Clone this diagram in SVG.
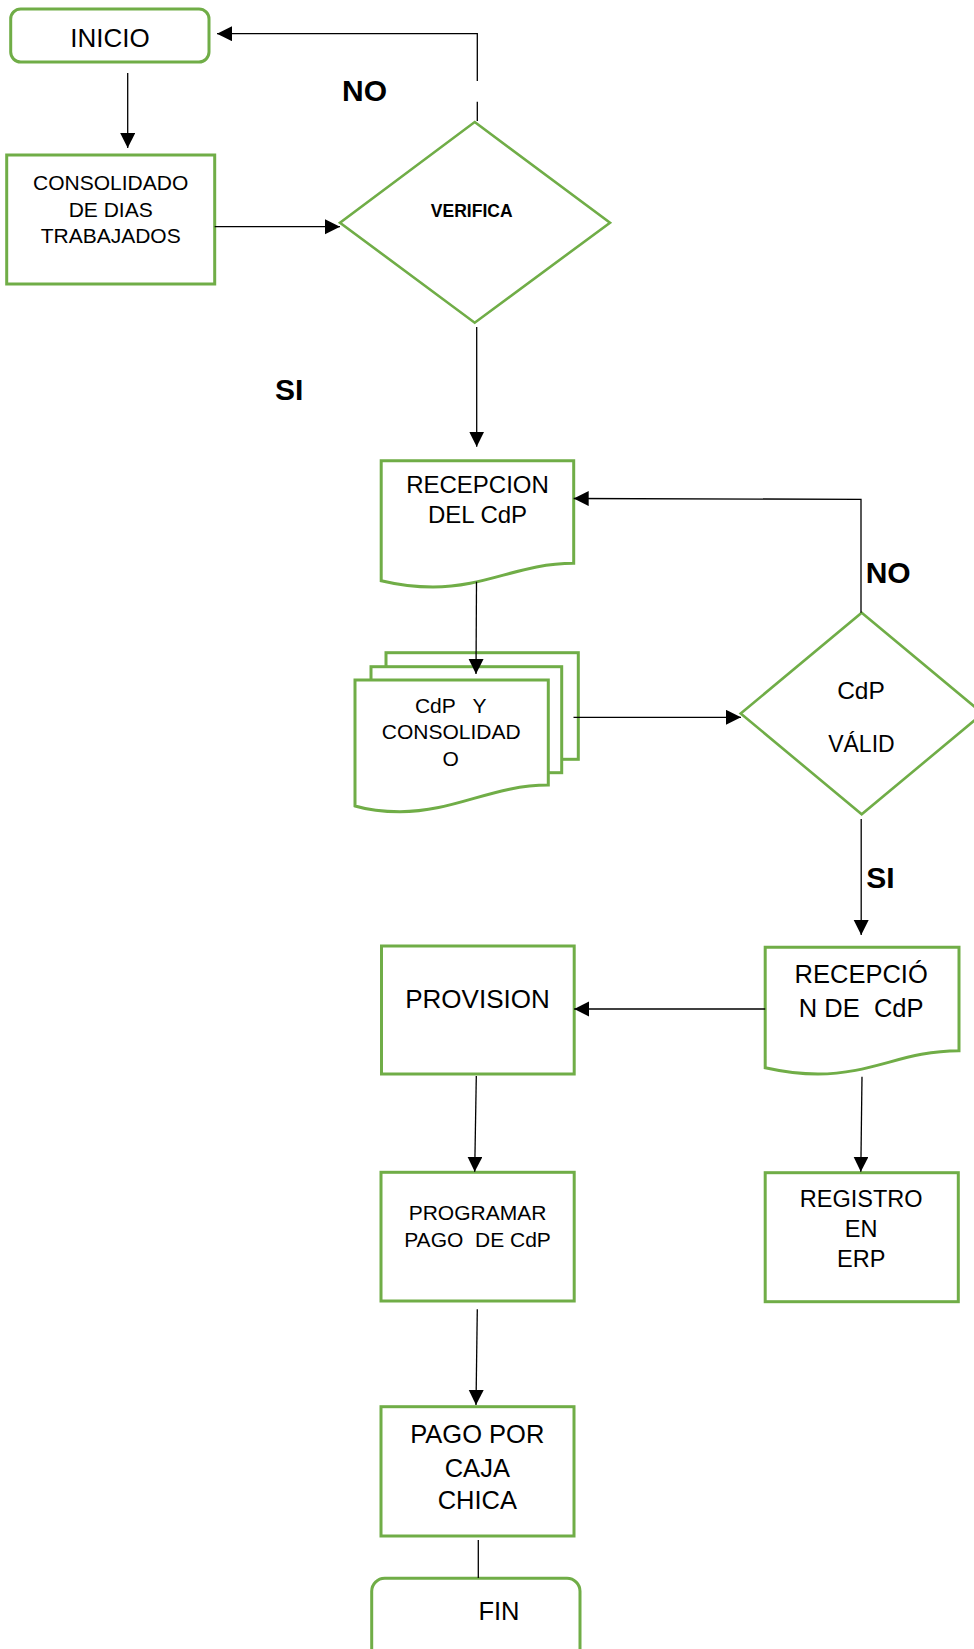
<svg xmlns="http://www.w3.org/2000/svg" width="974" height="1649" viewBox="0 0 974 1649">
<style>
.shape{fill:#fff;stroke:#70AD47;stroke-width:3}
.dia{fill:#fff;stroke:#70AD47;stroke-width:2.6}
.t{font-family:"Liberation Sans",Arial,sans-serif;fill:#000;text-anchor:middle}
.b{font-family:"Liberation Sans",Arial,sans-serif;font-weight:bold;fill:#000}
.c{fill:none;stroke:#000;stroke-width:1.3}
</style>
<defs>
<marker id="ah" markerUnits="userSpaceOnUse" markerWidth="16" markerHeight="16" refX="15" refY="7.5" orient="auto">
<path d="M0,0 L15,7.5 L0,15 Z" fill="#000"/>
</marker>
</defs>
<rect width="974" height="1649" fill="#fff"/>

<g id="inicio">
<rect class="shape" x="10.7" y="9" width="198.3" height="53" rx="10"/>
<text class="t" x="110" y="46.7" font-size="26">INICIO</text>
</g>
<g id="consolidado">
<rect class="shape" x="6.7" y="155" width="208" height="129"/>
<text class="t" x="110.7" y="190" font-size="21">CONSOLIDADO</text>
<text class="t" x="110.7" y="217" font-size="21">DE DIAS</text>
<text class="t" x="110.7" y="243" font-size="21">TRABAJADOS</text>
</g>
<g id="verifica">
<polygon class="dia" points="474.7,122 610,222.7 474.7,322.7 340,222.7"/>
<text class="t b" x="471.7" y="217.3" font-size="17.5">VERIFICA</text>
</g>
<g id="recepcion-cdp">
<path class="shape" d="M381.2,460.7 H573.7 V563.3 C519.7,563.3 487,587 433,587 C410,587 395,584 381.2,580.7 Z"/>
<text class="t" x="477.5" y="493.3" font-size="24">RECEPCION</text>
<text class="t" x="477.5" y="523.3" font-size="24">DEL CdP</text>
</g>
<g id="cdp-consolidado">
<rect class="shape" x="386" y="652.7" width="192.3" height="106.6"/>
<rect class="shape" x="371" y="666.7" width="190.7" height="106"/>
<path class="shape" d="M355,680 H548.3 V785 C493,785 455,811.7 400,811.7 C378,811.7 365,809 355,806 Z"/>
<text class="t" x="450.7" y="712.7" font-size="21" xml:space="preserve">CdP   Y</text>
<text class="t" x="451.2" y="739.3" font-size="21">CONSOLIDAD</text>
<text class="t" x="450.7" y="765.7" font-size="21">O</text>
</g>
<g id="cdp-valido">
<polygon class="dia" points="861.7,612.7 982.7,713.5 861.7,814.3 740.7,713.5"/>
<text class="t" x="861" y="699" font-size="24.5">CdP</text>
<text class="t" x="861.4" y="751.7" font-size="23">VÁLID</text>
</g>
<g id="recepcion-de-cdp">
<path class="shape" d="M765.2,947.3 H959 V1050.7 C904,1050.7 873,1074 818,1074 C795,1074 780,1071 765.2,1067.7 Z"/>
<text class="t" x="861.2" y="982.7" font-size="25.5">RECEPCIÓ</text>
<text class="t" x="861.2" y="1016.7" font-size="25.5" xml:space="preserve">N DE  CdP</text>
</g>
<g id="provision">
<rect class="shape" x="381.5" y="946" width="192.7" height="128"/>
<text class="t" x="477.5" y="1007.7" font-size="26">PROVISION</text>
</g>
<g id="programar">
<rect class="shape" x="381" y="1172.3" width="193.2" height="128.7"/>
<text class="t" x="477.5" y="1220" font-size="21">PROGRAMAR</text>
<text class="t" x="477.5" y="1246.7" font-size="21" xml:space="preserve">PAGO  DE CdP</text>
</g>
<g id="registro">
<rect class="shape" x="765.2" y="1172.7" width="193.1" height="129"/>
<text class="t" x="861.2" y="1206.7" font-size="23.5">REGISTRO</text>
<text class="t" x="861.2" y="1236.7" font-size="23.5">EN</text>
<text class="t" x="861.2" y="1266.7" font-size="23.5">ERP</text>
</g>
<g id="pago">
<rect class="shape" x="381" y="1406.7" width="193" height="129.3"/>
<text class="t" x="477.3" y="1443.3" font-size="25.5">PAGO POR</text>
<text class="t" x="477.3" y="1476.7" font-size="25.5">CAJA</text>
<text class="t" x="477.3" y="1509.3" font-size="25.5">CHICA</text>
</g>
<g id="fin">
<rect class="shape" x="371.7" y="1578.3" width="208.3" height="90" rx="13"/>
<text class="t" x="499" y="1620" font-size="25.5">FIN</text>
</g>

<g id="connectors">
<path class="c" d="M127.7,73 V148" marker-end="url(#ah)"/>
<path class="c" d="M214.7,226.7 H340" marker-end="url(#ah)"/>
<path class="c" d="M477.3,121 V101.7 M477.3,81 V33.7 H217" marker-end="url(#ah)"/>
<path class="c" d="M476.7,327 V446.7" marker-end="url(#ah)"/>
<path class="c" d="M476.5,581.7 L476,674" marker-end="url(#ah)"/>
<path class="c" d="M573.5,717.3 H741" marker-end="url(#ah)"/>
<path class="c" d="M861,612.7 V499.3 L573.7,498.5" marker-end="url(#ah)"/>
<path class="c" d="M861.2,819 V935" marker-end="url(#ah)"/>
<path class="c" d="M765.2,1009 H574.2" marker-end="url(#ah)"/>
<path class="c" d="M476.3,1076 L474.7,1171.7" marker-end="url(#ah)"/>
<path class="c" d="M862,1076.7 L860.8,1171.7" marker-end="url(#ah)"/>
<path class="c" d="M477.3,1309.3 L476,1405" marker-end="url(#ah)"/>
<path class="c" d="M478.3,1540 V1578"/>
<text class="b" x="342" y="100.7" font-size="30">NO</text>
<text class="b" x="275" y="400" font-size="30">SI</text>
<text class="b" x="865.7" y="583.3" font-size="30">NO</text>
<text class="b" x="866.3" y="888.3" font-size="30">SI</text>
</g>
</svg>
